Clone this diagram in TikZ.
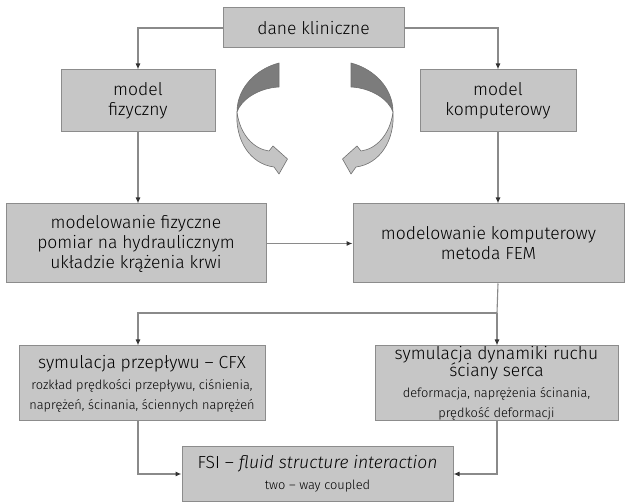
\documentclass[tikz,border=0pt]{standalone}
\usepackage{fontspec}
\setmainfont{Fira Sans}[UprightFont=* Light, ItalicFont=* Light Italic]
\usetikzlibrary{arrows.meta}
\definecolor{boxfill}{HTML}{C6C6C6}
\definecolor{boxline}{HTML}{8C8C8C}
\definecolor{connc}{HTML}{8A8A8A}
\definecolor{tipc}{HTML}{333333}
\definecolor{darkrib}{HTML}{7C7C7C}
\definecolor{lightrib}{HTML}{C4C4C4}
\definecolor{ribline}{HTML}{707070}
\newcommand{\bigf}{\fontsize{17.5}{20}\selectfont}
\newcommand{\smallf}{\fontsize{12.8}{15}\selectfont}
\begin{document}
\begin{tikzpicture}[x=1pt,y=-1pt,
  box/.style={draw=boxline, fill=boxfill, line width=1pt, inner sep=0pt, align=center, font=\bigf},
  conn/.style={draw=connc, line width=1.1pt, -{Latex[length=6pt,width=5pt,color=tipc]}},
  plainline/.style={draw=connc, line width=1.1pt},
  darkpart/.style={fill=darkrib, draw=ribline, line width=0.6pt, line join=round},
  lightpart/.style={fill=lightrib, draw=ribline, line width=0.6pt, line join=round}
]
\useasboundingbox (0,0) rectangle (630,502);

% boxes
\node[box, minimum width=181pt, minimum height=40pt] (dane) at (313.5,28) {dane kliniczne};
\node[box, minimum width=154pt, minimum height=62pt] (mfiz) at (138,101) {model\\fizyczny};
\node[box, minimum width=156pt, minimum height=62pt] (mkomp) at (498,101) {model\\komputerowy};
\node[box, minimum width=260pt, minimum height=79pt] (modfiz) at (136,243.5) {modelowanie fizyczne\\pomiar na hydraulicznym\\układzie krążenia krwi};
\node[box, minimum width=271pt, minimum height=79pt] (modkomp) at (488.5,243.5) {modelowanie komputerowy\\metoda FEM};
\node[box, minimum width=246pt, minimum height=75pt] (symp) at (142,383.5)
  {\bigf symulacja przepływu – CFX\\[1pt]
   \smallf rozkład prędkości przepływu, ciśnienia,\\
   \smallf naprężeń, ścinania, ściennych naprężeń};
\node[box, minimum width=243pt, minimum height=75pt] (symd) at (496.5,383.5)
  {\bigf symulacja dynamiki ruchu\\[-3pt]
   \bigf ściany serca\\[1pt]
   \smallf deformacja, naprężenia ścinania,\\
   \smallf prędkość deformacji};
\node[box, minimum width=271pt, minimum height=55pt] (fsi) at (317.5,474)
  {\bigf FSI – \textit{fluid structure interaction}\\[1pt]
   \smallf two – way coupled};

% connectors
\draw[conn] (dane.west) -| (mfiz.north);
\draw[conn] (dane.east) -| (mkomp.north);
\draw[conn] (mfiz.south) -- (mfiz.south |- modfiz.north);
\draw[conn] (mkomp.south) -- (mkomp.south |- modkomp.north);
\draw[conn] (modfiz.east) -- (modkomp.west);
\coordinate (br) at (497,313);
\draw[plainline] (mkomp.south |- modkomp.south) -- (br);
\draw[conn] (br) -| (mfiz.south |- symp.north);
\draw[conn] (br) -- (br |- symd.north);
\draw[conn] (mfiz.south |- symp.south) |- (fsi.west);
\draw[conn] (br |- symd.south) |- (fsi.east);

% curved ribbon arrows (left)
\draw[darkpart] (279,63) .. controls (256,69) and (237,88) .. (237,112)
  .. controls (241,100) and (258,88) .. (279,87) -- cycle;
\draw[lightpart] (237,112) .. controls (235,140) and (250,164) .. (274,167)
  -- (279,174) -- (287.5,159) -- (273,146) -- (269,151)
  .. controls (254,149) and (240,135) .. (237,112) -- cycle;
% right (mirror)
\draw[darkpart] (351,63) .. controls (374,69) and (393,88) .. (393,112)
  .. controls (389,100) and (372,88) .. (351,87) -- cycle;
\draw[lightpart] (393,112) .. controls (395,140) and (380,164) .. (356,167)
  -- (351,174) -- (342.5,159) -- (357,146) -- (361,151)
  .. controls (376,149) and (390,135) .. (393,112) -- cycle;
\end{tikzpicture}
\end{document}
